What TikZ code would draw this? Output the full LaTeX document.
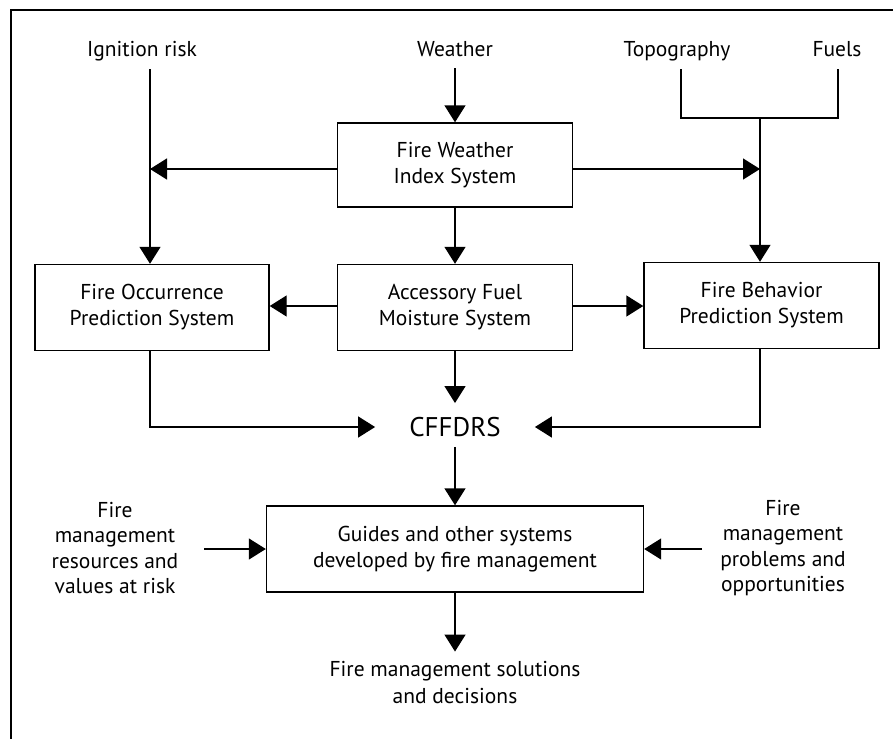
\documentclass[tikz,border=0pt]{standalone}
\usepackage{fontspec}
\setmainfont{PT Sans}
\usetikzlibrary{arrows.meta}
\begin{document}
\begin{tikzpicture}[x=1pt,y=-1pt,
  every node/.style={font=\fontsize{21.5}{26}\selectfont, align=center, inner sep=0pt},
  toplabel/.style={anchor=base},
  sysbox/.style={draw, line width=1.4pt, minimum width=235pt, minimum height=86pt},
  conn/.style={line width=1.4pt},
  arr/.style={conn, -{Triangle[length=17pt,width=21pt]}}]
\useasboundingbox (0,0) rectangle (893,739);
\draw[line width=1.4pt] (893,10) -- (11,10) -- (11,739);
% inputs
\node[toplabel] (ign) at (142,56) {Ignition risk};
\node[toplabel] (wea) at (455,56) {Weather};
\node[toplabel] (topo) at (677,56) {Topography};
\node[toplabel] (fuel) at (837,56) {Fuels};
% boxes
\node[sysbox, minimum height=84pt] (fwi) at (455,165) {Fire Weather\\Index System};
\node[sysbox, minimum width=234pt] (fops) at (152,307.5) {Fire Occurrence\\Prediction System};
\node[sysbox] (afms) at (455,307.5) {Accessory Fuel\\Moisture System};
\node[sysbox] (fbps) at (761.5,305.5) {Fire Behavior\\Prediction System};
\node[font=\fontsize{27}{30}\selectfont] (cff) at (455,427) {CFFDRS};
\node[sysbox, minimum width=377pt] (gui) at (455,549) {Guides and other systems\\developed by fire management};
\node[font=\fontsize{21.5}{25.3}\selectfont] (res) at (115,548) {Fire\\management\\resources and\\values at risk};
\node[font=\fontsize{21.5}{25.3}\selectfont] (prob) at (783,548) {Fire\\management\\problems and\\opportunities};
\node[font=\fontsize{21.5}{27}\selectfont] (sol) at (455,683) {Fire management solutions\\and decisions};
% coordinates
\coordinate (igtop) at (150,69);
\coordinate (tptop) at (681,69);
\coordinate (futop) at (838,69);
\coordinate (tpbot) at (681,118);
\coordinate (fubot) at (838,118);
\coordinate (join) at (760,118);
\coordinate (fwil) at (150,169);
\coordinate (fwir) at (760,169);
\coordinate (resout) at (204,549);
\coordinate (probout) at (702,549);
% connectors
\draw[conn] (igtop) -- (fwil);
\draw[arr] (fwil) -- (fops.north -| igtop);
\draw[arr] (wea.south |- 0,68) -- (fwi.north);
\draw[conn] (tptop) -- (tpbot) -- (fubot) -- (futop);
\draw[conn] (join) -- (fwir);
\draw[arr] (fwir) -- (fbps.north -| join);
\draw[arr] (fwi.west |- fwil) -- (fwil);
\draw[arr] (fwi.east |- fwir) -- (fwir);
\draw[arr] (fwi.south) -- (afms.north);
\draw[arr] (afms.west |- 0,306) -- (fops.east |- 0,306);
\draw[arr] (afms.east |- 0,306) -- (fbps.west |- 0,306);
\draw[arr] (fops.south -| igtop) -- (igtop |- cff) -- ([xshift=-34pt]cff.west);
\draw[arr] (fbps.south -| join) -- (join |- cff) -- ([xshift=34pt]cff.east);
\draw[arr] (afms.south) -- ([yshift=14pt]cff.north);
\draw[arr] ([yshift=-10pt]cff.south) -- (gui.north);
\draw[arr] (resout) -- (gui.west);
\draw[arr] (probout) -- (gui.east);
\draw[arr] (gui.south) -- ([yshift=10pt]sol.north);
\end{tikzpicture}
\end{document}
